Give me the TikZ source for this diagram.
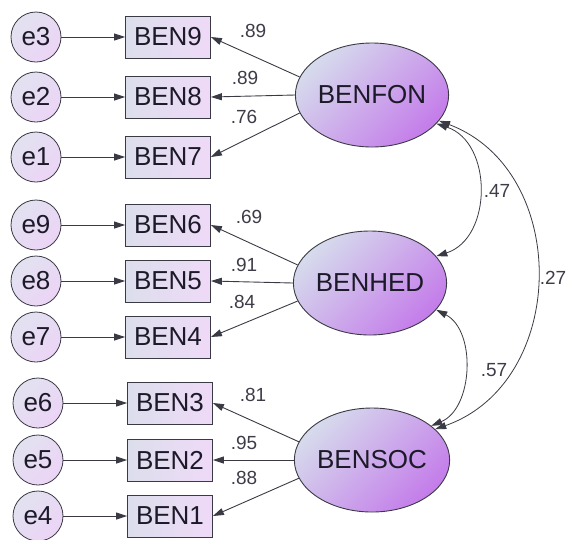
\documentclass[tikz,border=0pt]{standalone}
\usepackage{fontspec}
\setmainfont{Liberation Sans}
\usetikzlibrary{arrows.meta,shapes.geometric}
\definecolor{sem-ink}{HTML}{1C1A28}
\definecolor{sem-line}{HTML}{3A3A44}
\definecolor{sem-err-a}{HTML}{E2E2F0}
\definecolor{sem-err-b}{HTML}{ECD4F6}
\definecolor{sem-box-a}{HTML}{DCDEEC}
\definecolor{sem-box-b}{HTML}{EFDAF8}
\definecolor{sem-lat-a}{HTML}{D6DBEC}
\definecolor{sem-lat-b}{HTML}{C47CEA}
\tikzset{
  sem-error/.style={circle, draw=sem-line, line width=0.8pt, minimum size=50pt, inner sep=0pt,
    top color=sem-err-a, bottom color=sem-err-b, shading angle=45,
    font=\fontsize{26}{28}\selectfont, text=sem-ink},
  sem-item/.style={rectangle, draw=sem-line, line width=0.8pt, minimum width=85pt, minimum height=42pt,
    inner sep=0pt, left color=sem-box-a, right color=sem-box-b,
    font=\fontsize{26}{28}\selectfont, text=sem-ink},
  sem-factor/.style={ellipse, draw=sem-line, line width=0.9pt, minimum width=130pt, minimum height=104pt,
    inner sep=0pt, top color=sem-lat-a, bottom color=sem-lat-b, shading angle=45,
    font=\fontsize{26}{28}\selectfont, text=sem-ink},
  sem-path/.style={-{Triangle[length=11pt,width=7pt]}, draw=sem-line, line width=0.9pt},
  sem-cov/.style={{Triangle[length=11pt,width=7pt]}-{Triangle[length=11pt,width=7pt]}, draw=sem-line, line width=0.8pt},
  sem-coef/.style={font=\fontsize{19}{21}\selectfont, text=sem-ink!85, inner sep=0pt}
}

\begin{document}
\begin{tikzpicture}[x=1pt, y=1pt]
  \useasboundingbox (0,0) rectangle (569,-539);

  % Latent factors
  \node[sem-factor] (fon) at (372,-95)  {BENFON};
  \node[sem-factor] (hed) at (370,-283) {BENHED};
  \node[sem-factor] (soc) at (372,-460) {BENSOC};

  % Indicators and their error terms
  \node[sem-item]  (ben9) at (168,-37)  {BEN9};
  \node[sem-item]  (ben8) at (168,-97)  {BEN8};
  \node[sem-item]  (ben7) at (168,-157) {BEN7};
  \node[sem-item]  (ben6) at (168,-225) {BEN6};
  \node[sem-item]  (ben5) at (168,-281) {BEN5};
  \node[sem-item]  (ben4) at (168,-337) {BEN4};
  \node[sem-item]  (ben3) at (170,-403) {BEN3};
  \node[sem-item]  (ben2) at (170,-460) {BEN2};
  \node[sem-item]  (ben1) at (170,-516) {BEN1};

  \node[sem-error] (e3) at (36,-37)  {e3};
  \node[sem-error] (e2) at (36,-97)  {e2};
  \node[sem-error] (e1) at (36,-157) {e1};
  \node[sem-error] (e9) at (36,-225) {e9};
  \node[sem-error] (e8) at (36,-281) {e8};
  \node[sem-error] (e7) at (36,-337) {e7};
  \node[sem-error] (e6) at (38,-403) {e6};
  \node[sem-error] (e5) at (38,-460) {e5};
  \node[sem-error] (e4) at (38,-516) {e4};

  \draw[sem-path] (e3) -- (ben9);
  \draw[sem-path] (e2) -- (ben8);
  \draw[sem-path] (e1) -- (ben7);
  \draw[sem-path] (e9) -- (ben6);
  \draw[sem-path] (e8) -- (ben5);
  \draw[sem-path] (e7) -- (ben4);
  \draw[sem-path] (e6) -- (ben3);
  \draw[sem-path] (e5) -- (ben2);
  \draw[sem-path] (e4) -- (ben1);

  % Loadings
  \draw[sem-path] (fon.166) -- (ben9.east);
  \draw[sem-path] (fon.west) -- (ben8.east);
  \draw[sem-path] (fon.194) -- (ben7.east);
  \draw[sem-path] (hed.166) -- (ben6.east);
  \draw[sem-path] (hed.west) -- (ben5.east);
  \draw[sem-path] (hed.194) -- (ben4.east);
  \draw[sem-path] (soc.166) -- (ben3.east);
  \draw[sem-path] (soc.west) -- (ben2.east);
  \draw[sem-path] (soc.194) -- (ben1.east);

  \node[sem-coef] (l9) at (253,-31)  {.89};
  \node[sem-coef] (l8) at (245,-78)  {.89};
  \node[sem-coef] (l7) at (244,-117) {.76};
  \node[sem-coef] (l6) at (249,-217) {.69};
  \node[sem-coef] (l5) at (244,-265) {.91};
  \node[sem-coef] (l4) at (242,-302) {.84};
  \node[sem-coef] (l3) at (253,-395) {.81};
  \node[sem-coef] (l2) at (244,-443) {.95};
  \node[sem-coef] (l1) at (244,-478) {.88};

  % Correlations between factors
  \draw[sem-cov] (fon.-24) to[bend left=72, looseness=1.15] (hed.22);
  \draw[sem-cov] (fon.-21) to[bend left=70, looseness=1.17] (soc.26);
  \draw[sem-cov] (hed.-22) to[bend left=65] (soc.30);

  \node[sem-coef] (r12) at (497,-191) {.47};
  \node[sem-coef] (r13) at (553,-278) {.27};
  \node[sem-coef] (r23) at (494,-370) {.57};
\end{tikzpicture}
\end{document}
